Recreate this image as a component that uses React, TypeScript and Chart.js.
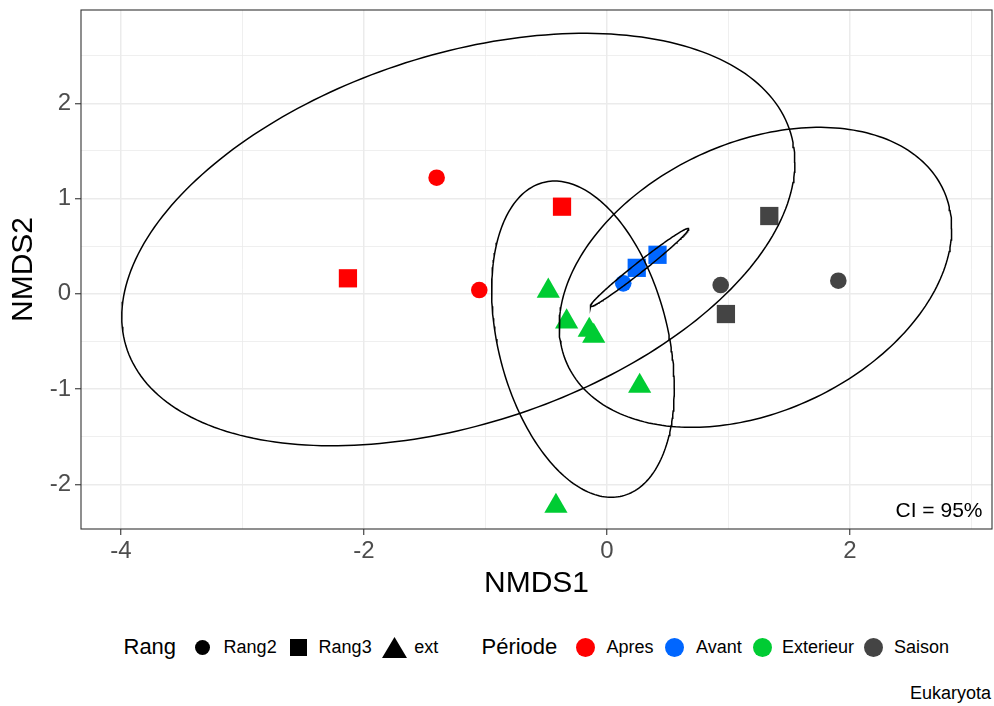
import React, { useEffect, useRef } from 'react';
import { Chart, registerables } from 'chart.js';

Chart.register(...registerables);

const FONT = 'Arial, "Liberation Sans", sans-serif';

// ---- data ----
const periodes = ['Apres', 'Avant', 'Exterieur', 'Saison'];
const periodeColors = ['#FF0000', '#0066FF', '#00CC33', '#444444'];
const rangs = ['Rang2', 'Rang3', 'ext'];

const nmds1 = [
  -1.402, -2.132, -1.051, -0.37,
  0.134, 0.245, 0.416,
  -0.483, -0.332, -0.146, -0.109, 0.269, -0.42,
  1.336, 0.936, 1.904, 0.979,
];
const nmds2 = [
  1.219, 0.163, 0.04, 0.915,
  0.11, 0.273, 0.41,
  0.03, -0.293, -0.38, -0.443, -0.968, -2.228,
  0.817, 0.092, 0.138, -0.212,
];
const rang = [
  'Rang2', 'Rang3', 'Rang2', 'Rang3',
  'Rang2', 'Rang3', 'Rang3',
  'ext', 'ext', 'ext', 'ext', 'ext', 'ext',
  'Rang3', 'Rang2', 'Rang2', 'Rang3',
];
const periode = [
  'Apres', 'Apres', 'Apres', 'Apres',
  'Avant', 'Avant', 'Avant',
  'Exterieur', 'Exterieur', 'Exterieur', 'Exterieur', 'Exterieur', 'Exterieur',
  'Saison', 'Saison', 'Saison', 'Saison',
];

// 95% confidence ellipses: centre, half-extents along x / y and correlation
const ellipseGroup = ['Apres', 'Avant', 'Exterieur', 'Saison'];
const ellipseCx = [-1.2235, 0.268, -0.1975, 1.222];
const ellipseCy = [0.57, 0.277, -0.476, 0.173];
const ellipseAx = [2.77, 0.405, 0.7515, 1.615];
const ellipseAy = [2.165, 0.41, 1.66, 1.575];
const ellipseR = [0.375, 0.987, -0.31, 0.325];

const X_MIN = -4.329;
const X_MAX = 3.169;
const Y_MIN = -2.469;
const Y_MAX = 2.98;

const shapeStyle: Record<string, string> = { Rang2: 'circle', Rang3: 'rect', ext: 'triangle' };
const shapeRadius: Record<string, number> = { Rang2: 8.3, Rang3: 12.9, ext: 13.4 };

function ellipsePoints(i: number) {
  const pts: { x: number; y: number }[] = [];
  const d = Math.acos(ellipseR[i]);
  const n = 240;
  for (let k = 0; k <= n; k++) {
    const t = (2 * Math.PI * k) / n;
    pts.push({
      x: ellipseCx[i] + ellipseAx[i] * Math.cos(t),
      y: ellipseCy[i] + ellipseAy[i] * Math.cos(t - d),
    });
  }
  return pts;
}

const panelPlugin = {
  id: 'panelDecor',
  afterDraw(chart: any) {
    const { ctx, chartArea: a } = chart;
    ctx.save();
    ctx.strokeStyle = '#333333';
    ctx.lineWidth = 1.1;
    ctx.strokeRect(a.left, a.top, a.right - a.left, a.bottom - a.top);
    ctx.fillStyle = '#000000';
    ctx.font = `21px ${FONT}`;
    ctx.textAlign = 'right';
    ctx.textBaseline = 'alphabetic';
    ctx.fillText('CI = 95%', a.right - 9.5, a.bottom - 11.7);
    ctx.restore();
  },
};

const zeroPad = (s: any) => {
  s.paddingTop = 0;
  s.paddingBottom = 0;
  s.paddingLeft = 0;
  s.paddingRight = 0;
};

export default function App() {
  const ref = useRef<HTMLCanvasElement>(null);

  useEffect(() => {
    const pointSets = periodes.map((p, gi) => {
      const idx = periode.map((v, i) => (v === p ? i : -1)).filter((i) => i >= 0);
      return {
        label: p,
        data: idx.map((i) => ({ x: nmds1[i], y: nmds2[i] })),
        pointStyle: idx.map((i) => shapeStyle[rang[i]]),
        pointRadius: idx.map((i) => shapeRadius[rang[i]]),
        backgroundColor: periodeColors[gi],
        borderColor: periodeColors[gi],
        pointBorderWidth: 0,
        showLine: false,
        order: 2,
      };
    });
    const ellipseSets = ellipseGroup.map((g, i) => ({
      label: 'ellipse ' + g,
      data: ellipsePoints(i),
      showLine: true,
      borderColor: '#000000',
      borderWidth: 1.5,
      pointRadius: 0,
      fill: false,
      tension: 0,
      order: 1,
    }));

    const isMajorX = (v: number) => Math.abs(v / 2 - Math.round(v / 2)) < 1e-6;
    const isMajorY = (v: number) => Math.abs(v - Math.round(v)) < 1e-6;

    const chart = new Chart(ref.current as HTMLCanvasElement, {
      type: 'scatter',
      data: { datasets: [...ellipseSets, ...pointSets] as any },
      plugins: [panelPlugin],
      options: {
        responsive: false,
        animation: false,
        layout: { autoPadding: false, padding: { left: 0, right: 2, top: 10, bottom: 0 } },
        plugins: { legend: { display: false }, tooltip: { enabled: false } },
        scales: {
          x: {
            type: 'linear',
            min: X_MIN,
            max: X_MAX,
            afterFit: (s: any) => {
              s.height = 73;
              zeroPad(s);
            },
            border: { display: false },
            grid: {
              color: '#EBEBEB',
              lineWidth: (c: any) => (isMajorX(c.tick.value) ? 1.5 : 0.8),
              tickLength: 6,
              tickWidth: 1.1,
              tickColor: (c: any) => (isMajorX(c.tick.value) ? '#333333' : 'rgba(0,0,0,0)'),
            },
            ticks: {
              stepSize: 1,
              includeBounds: false,
              autoSkip: false,
              maxRotation: 0,
              padding: 4,
              color: '#4D4D4D',
              font: { family: FONT, size: 24, lineHeight: 1 },
              callback: (v: any) => (isMajorX(Number(v)) ? String(Math.round(Number(v))) : ''),
            },
            title: {
              display: true,
              text: 'NMDS1',
              color: '#000000',
              font: { family: FONT, size: 30, lineHeight: 1 },
              padding: { top: 0, bottom: 3 },
            },
          },
          y: {
            type: 'linear',
            min: Y_MIN,
            max: Y_MAX,
            afterFit: (s: any) => {
              s.width = 81;
              zeroPad(s);
            },
            border: { display: false },
            grid: {
              color: '#EBEBEB',
              lineWidth: (c: any) => (isMajorY(c.tick.value) ? 1.5 : 0.8),
              tickLength: 6,
              tickWidth: 1.1,
              tickColor: (c: any) => (isMajorY(c.tick.value) ? '#333333' : 'rgba(0,0,0,0)'),
            },
            ticks: {
              stepSize: 0.5,
              includeBounds: false,
              autoSkip: false,
              padding: 4,
              color: '#4D4D4D',
              font: { family: FONT, size: 24, lineHeight: 1 },
              callback: (v: any) => (isMajorY(Number(v)) ? String(Math.round(Number(v))) : ''),
            },
            title: {
              display: true,
              text: 'NMDS2',
              color: '#000000',
              font: { family: FONT, size: 30, lineHeight: 1 },
              padding: { top: 9, bottom: 0 },
            },
          },
        },
      } as any,
    });
    return () => chart.destroy();
  }, []);

  const txt = (left: number, top: number, size: number, s: string) => (
    <div
      style={{
        position: 'absolute',
        left,
        top,
        fontSize: size,
        lineHeight: `${size}px`,
        whiteSpace: 'nowrap',
        color: '#000',
      }}
    >
      {s}
    </div>
  );
  const dot = (cx: number, d: number, color: string) => (
    <div
      style={{
        position: 'absolute',
        left: cx - d / 2,
        top: 647.8 - d / 2,
        width: d,
        height: d,
        borderRadius: '50%',
        background: color,
      }}
    />
  );

  return (
    <div
      style={{
        position: 'fixed',
        left: 0,
        top: 0,
        width: 994,
        height: 706,
        background: '#ffffff',
        fontFamily: FONT,
        overflow: 'hidden',
      }}
    >
      <canvas
        ref={ref}
        width={994}
        height={602}
        style={{ position: 'absolute', left: 0, top: 0, width: 994, height: 602 }}
      />
      {/* legend: Rang */}
      {txt(123.5, 636, 22, 'Rang')}
      {dot(202.5, 15, '#000')}
      {txt(223.6, 638.4, 18, rangs[0])}
      <div style={{ position: 'absolute', left: 290, top: 639.1, width: 17.3, height: 17.3, background: '#000' }} />
      {txt(318.6, 638.4, 18, rangs[1])}
      <svg style={{ position: 'absolute', left: 381.7, top: 637.3 }} width={25} height={21}>
        <polygon points="12.5,0 25,21 0,21" fill="#000" />
      </svg>
      {txt(414.3, 638.4, 18, rangs[2])}
      {/* legend: Période */}
      {txt(481.5, 636, 22, 'Période')}
      {dot(585.5, 19, periodeColors[0])}
      {txt(606.5, 638.4, 18, periodes[0])}
      {dot(674.2, 19, periodeColors[1])}
      {txt(696, 638.4, 18, periodes[1])}
      {dot(762.2, 19, periodeColors[2])}
      {txt(781.9, 638.4, 18, periodes[2])}
      {dot(873.8, 19, periodeColors[3])}
      {txt(894, 638.4, 18, periodes[3])}
      {/* caption */}
      <div
        style={{
          position: 'absolute',
          right: 3,
          top: 683.5,
          fontSize: 18,
          lineHeight: '18px',
          whiteSpace: 'nowrap',
          color: '#000',
        }}
      >
        Eukaryota
      </div>
    </div>
  );
}
